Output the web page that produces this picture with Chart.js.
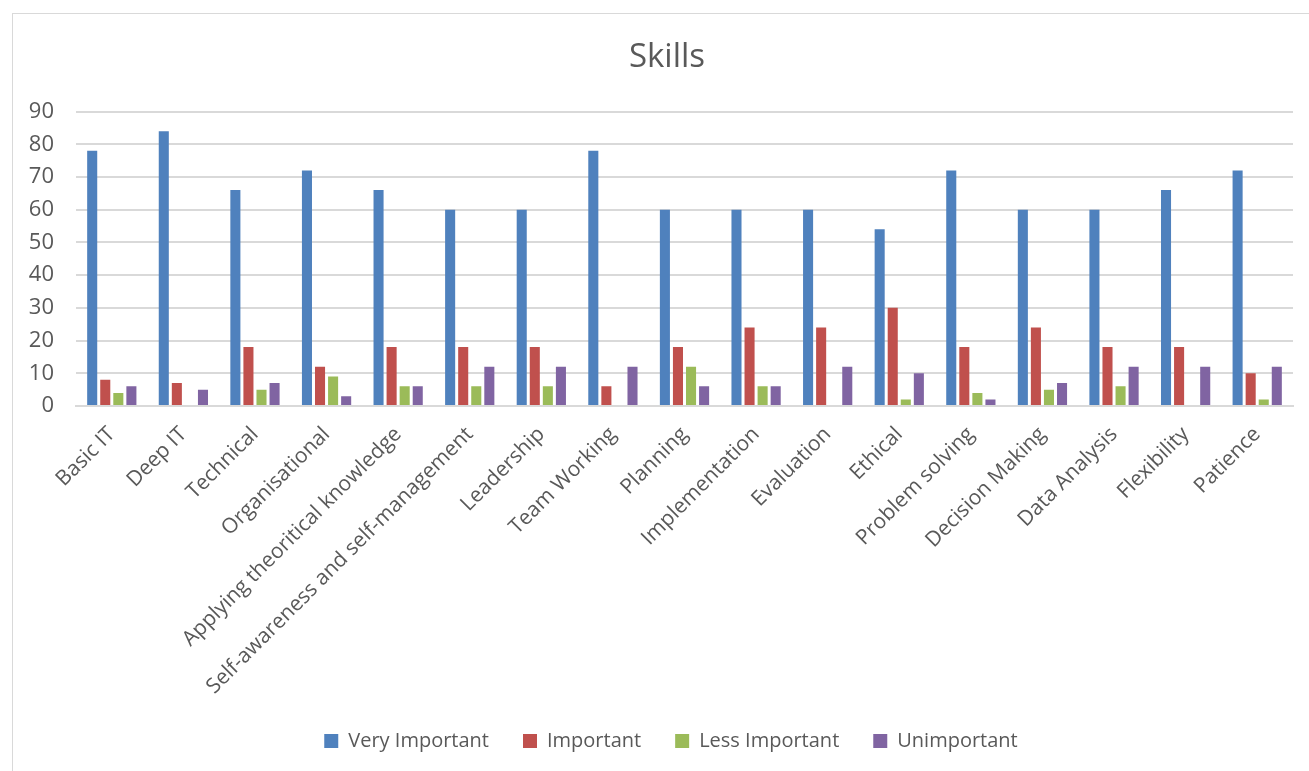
<!DOCTYPE html>
<html>
<head>
<meta charset="utf-8">
<title>Skills</title>
<script src="https://cdn.jsdelivr.net/npm/chart.js@4/dist/chart.umd.min.js"></script>
<style>
  html, body { margin: 0; padding: 0; background: #fff; }
  #wrap { position: relative; width: 1309px; height: 771px; overflow: hidden; }
  #frame { position: absolute; left: 12px; top: 13px; width: 1320px; height: 780px; border: 1px solid #d9d9d9; box-sizing: border-box; }
  #chart { position: absolute; left: 0; top: 0; }
</style>
</head>
<body>
<div id="wrap">
  <div id="frame"></div>
  <canvas id="chart" width="1309" height="771"></canvas>
</div>
<script>
// survey answers per skill
const skills = [
  "Basic IT", "Deep IT", "Technical", "Organisational",
  "Applying theoritical knowledge", "Self-awareness and self-management",
  "Leadership", "Team Working", "Planning", "Implementation", "Evaluation",
  "Ethical", "Problem solving", "Decision Making", "Data Analysis",
  "Flexibility", "Patience"
];
const veryImportant = [78, 84, 66, 72, 66, 60, 60, 78, 60, 60, 60, 54, 72, 60, 60, 66, 72];
const important     = [8, 7, 18, 12, 18, 18, 18, 6, 18, 24, 24, 30, 18, 24, 18, 18, 10];
const lessImportant = [4, 0, 5, 9, 6, 6, 6, 0, 12, 6, 0, 2, 4, 5, 6, 0, 2];
const unimportant   = [6, 5, 7, 3, 6, 12, 12, 12, 6, 6, 12, 10, 2, 7, 12, 12, 12];
const yTicks = [0, 10, 20, 30, 40, 50, 60, 70, 80, 90];

const textColor = "#595959";
const gridColor = "#d9d9d9";
const fontFamily = "'Open Sans', 'Noto Sans', sans-serif";

function series(label, data, color) {
  return {
    label: label,
    data: data,
    backgroundColor: color,
    borderWidth: 0,
    categoryPercentage: 0.73,
    barPercentage: 0.77
  };
}

// centre title and legend on the frame rather than the padded canvas
const shiftBlocks = {
  id: "shiftBlocks",
  afterLayout(chart) {
    chart.titleBlock.left += 12;
    chart.legend.left += 20;
  }
};

const ctx = document.getElementById("chart").getContext("2d");
new Chart(ctx, {
  type: "bar",
  data: {
    labels: skills,
    datasets: [
      series("Very Important", veryImportant, "#4f81bd"),
      series("Important", important, "#c0504d"),
      series("Less Important", lessImportant, "#9bbb59"),
      series("Unimportant", unimportant, "#8064a2")
    ]
  },
  options: {
    responsive: false,
    animation: false,
    layout: { padding: { left: 29, right: 16, top: 38, bottom: 10 } },
    plugins: {
      title: {
        display: true,
        text: "Skills",
        color: textColor,
        font: { family: fontFamily, size: 33, weight: "normal", lineHeight: 1.2 },
        padding: { top: 0, bottom: 34 }
      },
      legend: {
        position: "bottom",
        labels: {
          color: textColor,
          font: { family: fontFamily, size: 20 },
          boxWidth: 14,
          boxHeight: 14,
          padding: 34
        }
      },
      tooltip: { enabled: false }
    },
    scales: {
      x: {
        grid: { display: false, drawTicks: false },
        border: { color: gridColor, width: 2 },
        ticks: {
          color: textColor,
          font: { family: fontFamily, size: 21 },
          minRotation: 45,
          maxRotation: 45,
          autoSkip: false,
          padding: 16
        },
        afterFit: (axis) => { axis.height = 291; }
      },
      y: {
        min: 0,
        max: 90,
        afterBuildTicks: (axis) => { axis.ticks = yTicks.map(v => ({ value: v })); },
        grid: { color: gridColor, lineWidth: 2, drawTicks: false },
        border: { display: false },
        ticks: {
          color: textColor,
          font: { family: fontFamily, size: 22 },
          padding: 22
        },
        afterFit: (axis) => { axis.width = 47; }
      }
    }
  },
  plugins: [shiftBlocks]
});
</script>
</body>
</html>
